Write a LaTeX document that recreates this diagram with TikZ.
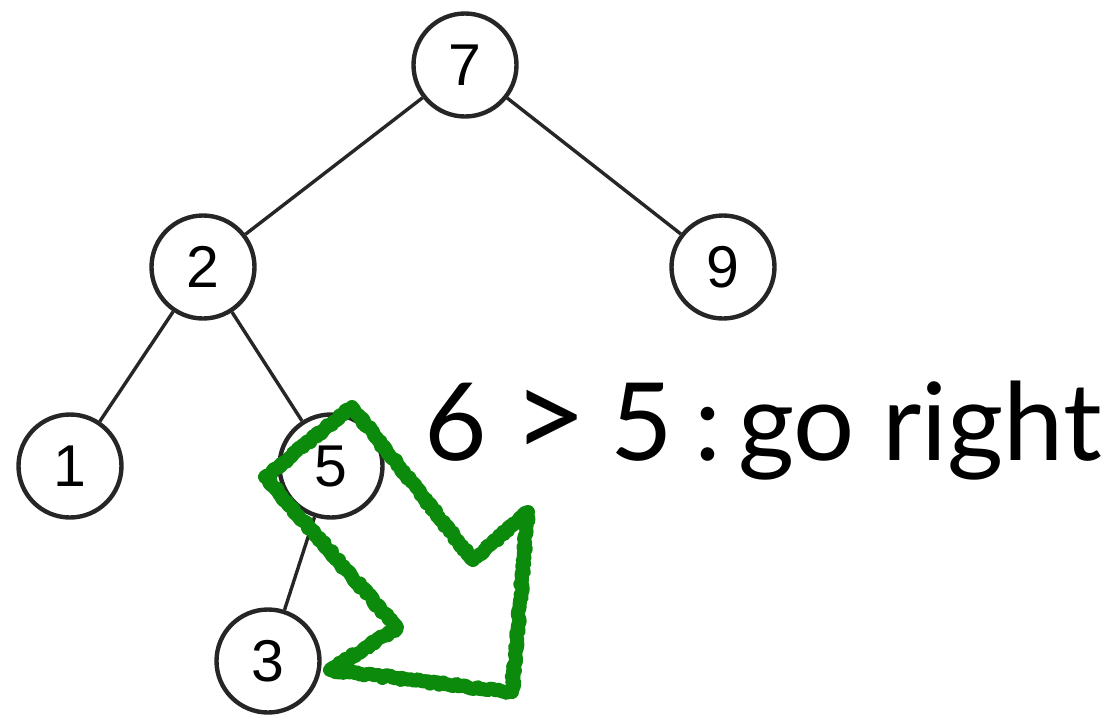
\documentclass[tikz,border=0pt]{standalone}
\usepackage{fontspec}
\usepackage{graphicx}
\setmainfont{Liberation Sans}
\newfontfamily\labfont{Lato}
\usetikzlibrary{decorations.pathmorphing}
\definecolor{penGreen}{RGB}{12,138,12}
\tikzset{
  tnode/.style={circle,draw=black!85,line width=4.4pt,minimum size=103pt,inner sep=0pt,font=\fontsize{59}{59}\selectfont},
  tedge/.style={draw=black!85,line width=3.4pt},
  scribble/.style={draw=penGreen,line width=14pt,line join=round,line cap=round,
    decorate,decoration={random steps,segment length=2.5pt,amplitude=1.6pt}},
  scribblethin/.style={draw=penGreen,line width=4pt,line join=round,line cap=round,
    decorate,decoration={random steps,segment length=2pt,amplitude=3pt}},
}
\newcommand{\at}[2]{\rlap{\hspace*{#1pt}#2}}
\begin{document}
\begin{tikzpicture}[x=1pt,y=-1pt]
\useasboundingbox (0,0) rectangle (1105,716);
\node[tnode] (n7) at (465,65) {7};
\node[tnode] (n2) at (203,267) {2};
\node[tnode] (n9) at (723,267) {9};
\node[tnode] (n1) at (70,466) {1};
\node[tnode] (n5) at (331,466) {5};
\node[tnode] (n3) at (268,661) {3};
\draw[tedge] (n7) -- (n2);
\draw[tedge] (n7) -- (n9);
\draw[tedge] (n2) -- (n1);
\draw[tedge] (n2) -- (n5);
\draw[tedge] (n5) -- (n3);
\node[anchor=base west,inner sep=0pt,font=\labfont\fontsize{108}{108}\selectfont] (lab) at (424,460)
  {\at{0}{6}\at{88}{\raisebox{-2pt}{\scalebox{1.35}[1.3]{\fontsize{96}{96}\selectfont\raisebox{2pt}{>}}}}\at{186}{5}\at{270}{:}\at{314}{go}\hspace*{458pt}right};
\coordinate (a1) at (352,407);
\coordinate (a2) at (473,560);
\coordinate (a3) at (528,512);
\coordinate (a4) at (512,692);
\coordinate (a5) at (330,670);
\coordinate (a6) at (397,628);
\coordinate (a7) at (265,477);
\draw[scribble] (a1) -- (a2) -- (a3) -- (a4) -- (a5) -- (a6) -- (a7) -- cycle;
\draw[scribblethin] (a1) -- (a2) -- (a3) -- (a4) -- (a5) -- (a6) -- (a7) -- cycle;
\end{tikzpicture}
\end{document}
